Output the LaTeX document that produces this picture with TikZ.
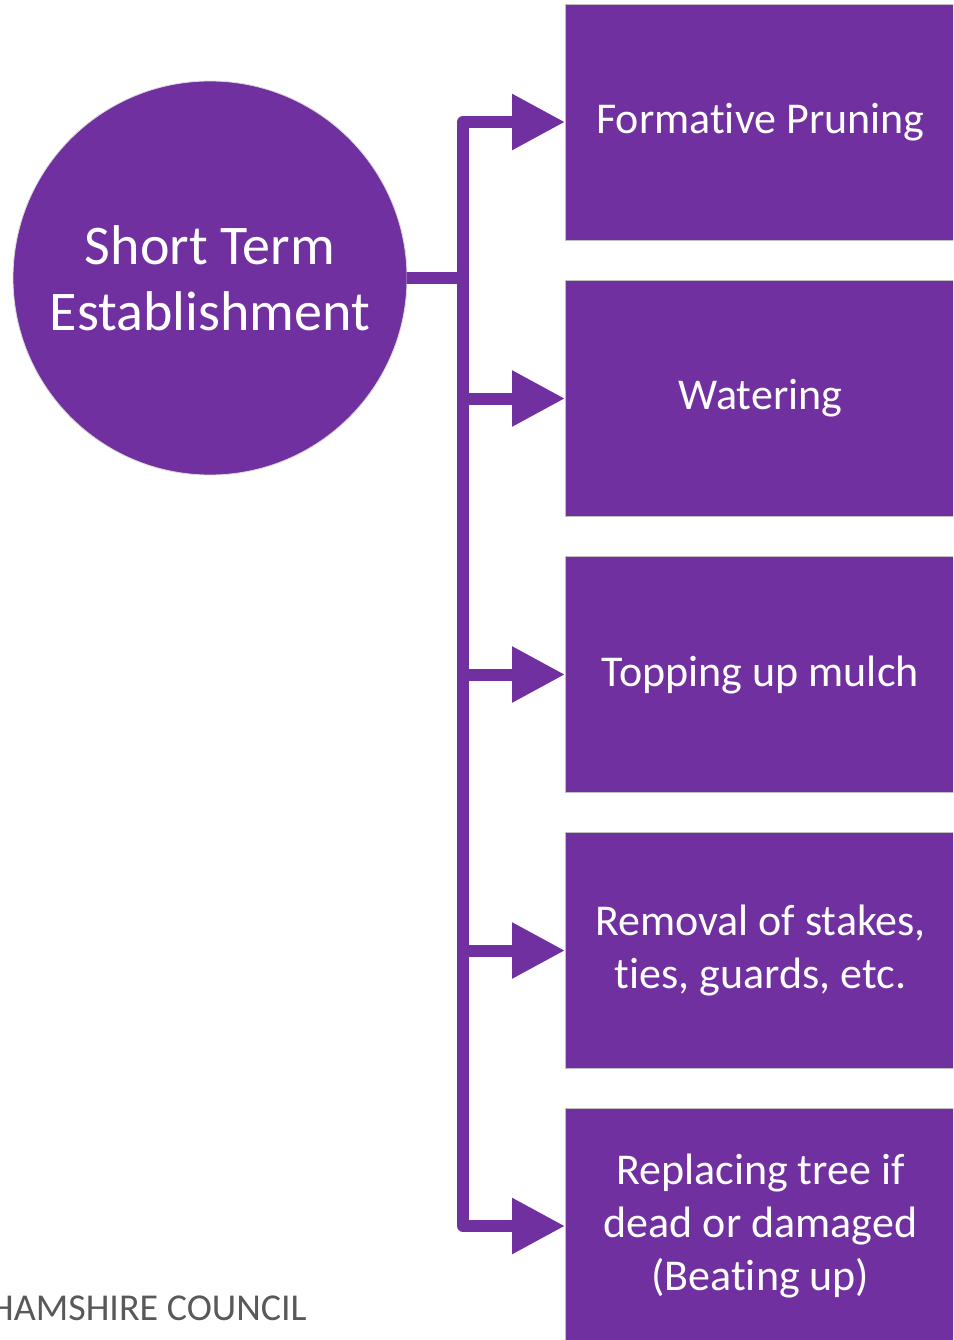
\documentclass[tikz,border=0pt]{standalone}
\usepackage{fontspec}
\setmainfont[Ligatures={NoCommon,NoRequired,NoContextual,NoRare},RawFeature={-dlig;-calt}]{Carlito}
\usetikzlibrary{arrows.meta}
\definecolor{purp}{HTML}{7030A0}
\definecolor{txtgray}{HTML}{595959}
\tikzset{
  boxnode/.style={rectangle, fill=purp, draw=black!25, line width=0.8pt, minimum width=390pt, minimum height=236pt, anchor=west, text=white, align=center, font=\fontsize{44}{53}\selectfont, inner sep=0pt},
  hub/.style={circle, fill=purp, draw=black!15, line width=0.8pt, minimum size=394pt, text=white, align=center, font=\fontsize{56}{66}\selectfont, inner sep=0pt},
  conn/.style={purp, line width=12pt, line join=round, -{Triangle[length=53pt,width=53pt]}},
  footer/.style={text=txtgray, font=\fontsize{38}{46}\selectfont, inner sep=0pt, anchor=base west}
}
\begin{document}
\begin{tikzpicture}[x=1pt,y=-1pt]
\useasboundingbox (0,0) rectangle (953,1340);
\clip (0,0) rectangle (953,1340);
\node[hub] (c) at (210,278) {Short Term\\Establishment};
\node[boxnode] (b1) at (565,122) {Formative Pruning};
\node[boxnode] (b2) at (565,398.5) {Watering};
\node[boxnode] (b3) at (565,674.5) {Topping up mulch};
\node[boxnode] (b4) at (565,950.5) {Removal of stakes,\\ties, guards, etc.};
\node[boxnode] (b5) at (565,1226) {Replacing tree if\\dead or damaged\\(Beating up)};
\coordinate (j) at (463,278);
\foreach \b in {b1,b2,b3,b4,b5}{
  \draw[conn] (c.east) -- (j) |- (\b.west);
}
\node[footer] (f) at (-10,1320) {HAMSHIRE COUNCIL};
\end{tikzpicture}
\end{document}
